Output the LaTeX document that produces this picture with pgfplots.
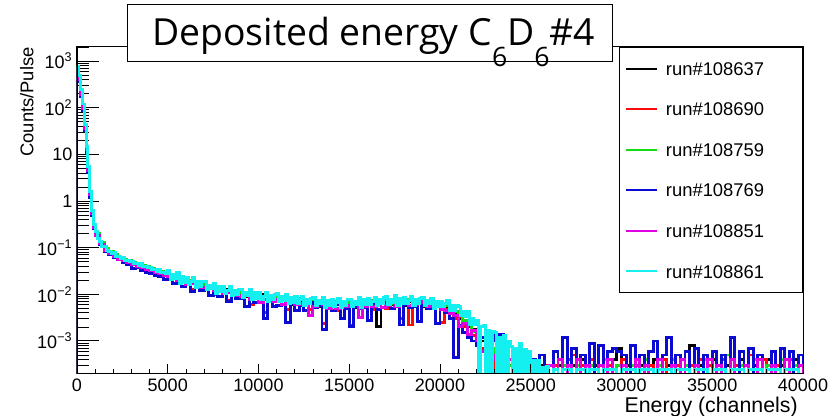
\documentclass[border=0pt]{standalone}
\usepackage{fontspec}
\setmainfont{Liberation Sans}
\newfontfamily\titlefont{Open Sans}
\usepackage{pgfplots}
\usepackage{pgfplotstable}
\pgfplotsset{compat=1.18}
\definecolor{rred}{RGB}{250,10,10}
\definecolor{rgreen}{RGB}{20,220,20}
\definecolor{rblue}{RGB}{10,10,210}
\definecolor{rmag}{RGB}{225,0,225}
\definecolor{rcyan}{RGB}{20,240,240}
% values in units of 1e-4 counts/pulse; 0.1 stands for an empty bin
\pgfplotstableread{
x a b c d e
0 0.1 0.1 0.1 0.1 0.1
0 7.2e6 6.8e6 7.5e6 5.5e6 7e6
100 4.4e6 4.2e6 4.6e6 3.6e6 4.0e6
200 2.1e6 2.0e6 2.3e6 1.7e6 1.9e6
300 1.05e6 1.0e6 1.1e6 0.85e6 0.95e6
400 3.9e5 3.7e5 4.1e5 3.2e5 3.6e5
500 1.35e5 1.3e5 1.45e5 1.1e5 1.25e5
600 4.8e4 4.6e4 5.1e4 4.0e4 4.4e4
700 1.45e4 1.4e4 1.55e4 1.2e4 1.35e4
800 5.8e3 5.6e3 6.1e3 5.0e3 5.4e3
900 2.9e3 2.8e3 3.0e3 2.6e3 2.7e3
1000 2000 1900 2050 1800 1850
1250 1280 1250 1320 1150 1200
1500 960 900 970 840 880
1750 790 770 810 700 740
2000 690 660 720 600 650
2250 630 580 610 560 570
2500 540 530 570 470 520
2750 500 480 520 440 470
3000 470 430 480 360 440
3250 420 420 450 370 400
3500 400 370 420 330 380
3750 370 360 390 290 340
4000 340 320 360 280 320
4250 320 290 330 250 300
4500 290 275 310 240 275
4750 275 250 285 210 255
5000 260 244 268 221 237
5250 226 247 233 170 240
5500 232 185 239 212 198
5750 191 210 197 150 204
6000 189 189 195 177 166
6250 193 130 187 115 171
6500 150 180 162 150 170
6750 160 146 168 120 142
7000 150 141 155 128 137
7250 133 146 138 95 142
7500 139 100 143 127 119
7750 116 128 120 90 124
8000 118 118 122 111 104
8250 124 75 121 70 110
8500 99 119 106 99 112
8750 108 98 113 80 96
9000 104 94 109 83 88
9250 90 105 95 55 100
9500 102 60 107 92 78
9750 80 94 85 66 89
10000 86 86 91 82 68
10250 97 40 92 30 79
10500 69 95 79 73 86
10750 84 71 91 55 69
11000 70 82 74 57 78
11250 76 76 80 72 60
11500 86 47 82 25 70
11750 61 84 70 65 76
12000 74 63 80 45 61
12250 72 65 76 58 61
12500 63 74 67 46 70
12750 72 48 76 66 35
13000 68 58 73 51 56
13250 54 74 62 57 67
13500 73 24 69 18 59
13750 62 62 65 59 49
14000 54 64 58 45 61
14250 66 44 69 60 50
14500 57 66 60 30 63
14750 63 57 66 50 54
15000 69 22 66 20 57
15250 51 70 59 54 64
15500 65 55 70 49 32
15750 66 59 69 53 56
16000 60 70 64 28 67
16250 71 48 75 65 54
16500 20 69 62 48 66
16750 67 67 70 63 53
17000 75 50 78 67 57
17250 61 72 65 50 68
17500 68 68 72 65 54
17750 79 30 76 22 65
18000 58 79 66 61 72
18250 71 22 77 53 58
18500 70 63 74 56 60
18750 62 72 66 26 69
19000 54 75 63 58 68
19250 66 56 71 50 54
19500 64 58 67 51 54
19750 56 65 59 24 62
20000 62 25 65 56 47
20250 55 48 58 40 45
20500 42 50 47 30 38
20750 40 30 42 4.5 35
21000 30 34 35 22 20
21250 27 20 28 15 24
21500 20 22 23 12 14
21750 18 13 16 10 17
22000 12 14 15 8 10
22250 10 7 0.1 12 6
22500 7 9 0.1 5 8
22750 6 5 7 15 4
23000 5 0.1 5 10 5
23250 0.1 5 4 14 0.1
23500 4 3 0.1 5 3
23750 3 0.1 3 0.1 4
24000 0.1 3 0.1 4 0.1
24250 3 0.1 3 0.1 3
24500 0.1 3 0.1 5 0.1
24750 3 0.1 0.1 0.1 3
25000 0.1 3 3 4 0.1
25250 0.1 0.1 0.1 0.1 3
25500 3 0.1 0.1 5 0.1
25750 0.1 3 0.1 0.1 0.1
26000 0.1 0.1 3 0.1 3
26250 0.1 3 0.1 6 0.1
26500 3 0.1 0.1 0.1 4
26750 0.1 0.1 3 12 0.1
27000 0.1 4 0.1 0.1 3
27250 3 5 0.1 7 0.1
27500 0.1 0.1 3 0.1 4
27750 4 3 0.1 5 0.1
28000 0.1 0.1 0.1 0.1 3
28250 0.1 4 3 9 0.1
28500 3 0.1 0.1 0.1 0.1
28750 0.1 3 0.1 8 3
29000 0.1 0.1 4 0.1 0.1
29250 0.1 3 0.1 6 4
29500 4 0.1 0.1 7 0.1
29750 7 0.1 3 6 0.1
30000 0.1 4 0.1 5 3
30250 3 0.1 0.1 0.1 0.1
30500 0.1 0.1 3 8 0.1
30750 0.1 3 0.1 0.1 4
31000 3 0.1 0.1 5 0.1
31250 0.1 0.1 4 0.1 3
31500 0.1 3 0.1 6 0.1
31750 4 0.1 0.1 10 0.1
32000 0.1 0.1 3 0.1 4
32250 0.1 4 0.1 5 0.1
32500 3 0.1 0.1 12 0.1
32750 0.1 0.1 4 0.1 3
33000 0.1 3 0.1 5 0.1
33250 4 0.1 0.1 0.1 4
33500 0.1 0.1 3 6 0.1
33750 8 3 0.1 0.1 0.1
34000 0.1 0.1 0.1 7 3
34250 3 4 0.1 0.1 0.1
34500 0.1 0.1 4 5 0.1
34750 0.1 3 0.1 0.1 4
35000 4 0.1 0.1 6 0.1
35250 0.1 0.1 3 0.1 3
35500 0.1 4 0.1 5 0.1
35750 3 0.1 5 0.1 0.1
36000 0.1 0.1 0.1 12 4
36250 0.1 3 0.1 0.1 0.1
36500 4 0.1 3 6 0.1
36750 0.1 0.1 0.1 0.1 3
37000 0.1 5 0.1 7 0.1
37250 3 0.1 4 0.1 0.1
37500 0.1 0.1 0.1 5 4
37750 0.1 4 0.1 0.1 0.1
38000 4 0.1 3 0.1 0.1
38250 0.1 0.1 0.1 6 3
38500 0.1 3 0.1 0.1 0.1
38750 3 0.1 4 7 0.1
39000 0.1 0.1 0.1 0.1 4
39250 0.1 4 0.1 6 0.1
39500 4 0.1 3 0.1 0.1
39750 0.1 5 0.1 5 3
40000 0.1 0.1 0.1 0.1 0.1
}\data
% run 108861 (cyan), finer binning
\pgfplotstableread{
x f
0 0.1
0 7.6e6
100 4.8e6
200 2.4e6
300 1.2e6
400 4.3e5
500 1.5e5
600 5.4e4
700 1.6e4
800 6.4e3
900 3.2e3
1000 2200
1125 1600
1250 1380
1375 1070
1500 1060
1625 860
1750 840
1875 765
2000 770
2125 660
2250 657
2375 572
2500 627
2625 530
2750 535
2875 500
3000 517
3125 455
3250 466
3375 412
3500 459
3625 391
3750 399
3875 372
4000 385
4125 337
4250 345
4375 303
4500 336
4625 287
4750 294
4875 275
5000 325
5125 212
5250 264
5375 220
5500 292
5625 174
5750 241
5875 182
6000 234
6125 165
6250 191
6375 225
6500 139
6625 185
6750 147
6875 189
7000 187
7125 124
7250 156
7375 131
7500 175
7625 105
7750 147
7875 112
8000 146
8125 105
8250 123
8375 146
8500 92
8625 123
8750 99
8875 129
9000 130
9125 87
9250 110
9375 93
9500 126
9625 76
9750 108
9875 83
10000 109
10125 78
10250 92
10375 111
10500 71
10625 95
10750 77
10875 101
11000 103
11125 69
11250 88
11375 75
11500 101
11625 62
11750 87
11875 68
12000 89
12125 64
12250 76
12375 91
12500 57
12625 78
12750 63
12875 83
13000 85
13125 57
13250 74
13375 63
13500 86
13625 52
13750 75
13875 58
14000 77
14125 55
14250 66
14375 81
14500 52
14625 71
14750 58
14875 77
15000 79
15125 54
15250 70
15375 61
15500 85
15625 52
15750 76
15875 59
16000 80
16125 59
16250 71
16375 87
16500 57
16625 77
16750 64
16875 85
17000 89
17125 60
17250 79
17375 68
17500 94
17625 58
17750 83
17875 65
18000 86
18125 62
18250 75
18375 90
18500 57
18625 77
18750 63
18875 83
19000 85
19125 57
19250 73
19375 62
19500 83
19625 50
19750 71
19875 54
20000 71
20125 55
20250 63
20375 74
20500 45
20625 58
20750 46
20875 57
21000 55
21125 35
21250 42
21375 33
21500 42
21625 23
21750 31
21875 22
22000 28
22125 0.1
22250 20
22375 22
22500 0.1
22625 17
22750 0.1
22875 16
23000 15
23125 0.1
23250 12
23375 0.1
23500 13
23625 0.1
23750 10
23875 7.6
24000 0.1
24125 6.8
24250 0.1
24375 9
24500 0.1
24625 6.7
24750 0.1
24875 6
25000 0.1
25125 3.8
25250 0.1
25375 3.8
25500 0.1
25625 2.7
25750 0.1
25875 2.8
26000 0.1
26250 2.4
26500 0.1
26750 2.4
27000 2.4
27250 0.1
27500 2.4
27750 2.4
28000 0.1
28250 2.4
28500 2.4
28750 0.1
29000 2.4
29250 2.4
29500 2.4
29750 0.1
30000 2.4
30250 2.4
30500 2.4
30750 0.1
31000 2.4
31250 2.4
31500 2.4
31750 0.1
32000 2.4
32250 2.4
32500 2.4
32750 0.1
33000 2.4
33250 2.4
33500 2.4
33750 0.1
34000 2.4
34250 2.4
34500 2.4
34750 0.1
35000 2.4
35250 2.4
35500 2.4
35750 0.1
36000 2.4
36250 2.4
36500 2.4
36750 0.1
37000 2.4
37250 2.4
37500 2.4
37750 0.1
38000 2.4
38250 2.4
38500 2.4
38750 0.1
39000 2.4
39250 2.4
39500 2.4
39750 0.1
40000 0.1
}\cyandata
\begin{document}
\begin{tikzpicture}
\begin{axis}[
  at={(57.75pt,31.5pt)}, anchor=south west,
  scale only axis, width=544.5pt, height=245.25pt,
  ymode=log, xmin=0, xmax=40000, ymin=1.96e-4, ymax=2000,
  axis line style={line width=0.75pt},
  tick pos=left, tick align=inside,
  major tick style={line width=0.75pt, black},
  minor tick style={line width=0.6pt, black},
  ticklabel style={font=\fontsize{13.5}{14}\selectfont},
  /pgf/number format/1000 sep={},
  /pgf/number format/assume math mode=true,
  xtick=\empty,
  major tick length=16.5pt, minor tick length=9pt,
  ytick={1e-3,1e-2,1e-1,1,10,100,1000},
  yticklabels={10\textsuperscript{−3},10\textsuperscript{−2},10\textsuperscript{−1},1,10,10\textsuperscript{2},10\textsuperscript{3}},
  minor ytick={2e-4,3e-4,4e-4,5e-4,6e-4,7e-4,8e-4,9e-4,2e-3,3e-3,4e-3,5e-3,6e-3,7e-3,8e-3,9e-3,0.02,0.03,0.04,0.05,0.06,0.07,0.08,0.09,0.2,0.3,0.4,0.5,0.6,0.7,0.8,0.9,2,3,4,5,6,7,8,9,20,30,40,50,60,70,80,90,200,300,400,500,600,700,800,900,2000},
  ylabel={Counts/Pulse},
  every axis y label/.style={at={(axis description cs:-0.069,1)}, anchor=east, rotate=90, inner sep=0pt, font=\fontsize{13.8}{14}\selectfont},
  legend style={at={(1,1)}, anchor=north east, draw=black, line width=0.6pt, fill=white,
    font=\fontsize{13.8}{14}\selectfont, inner xsep=4.5pt, inner ysep=11pt,
    row sep=20.4pt, column sep=6pt,
    nodes={inner sep=0pt, text height=10pt, text depth=0pt}},
  legend cell align=left,
  legend image code/.code={\draw[#1, line width=1.5pt] (0pt,0pt) -- (23pt,0pt);},
  every axis plot/.append style={const plot, line width=2.2pt, mark=none},
]
\addplot[black] table[x=x, y expr=\thisrow{a}*1e-4] {\data};
\addlegendentry{\makebox[98pt][l]{run\#108637}}
\addplot[rred] table[x=x, y expr=\thisrow{b}*1e-4] {\data};
\addlegendentry{\makebox[98pt][l]{run\#108690}}
\addplot[rgreen] table[x=x, y expr=\thisrow{c}*1e-4] {\data};
\addlegendentry{\makebox[98pt][l]{run\#108759}}
\addplot[rblue] table[x=x, y expr=\thisrow{d}*1e-4] {\data};
\addlegendentry{\makebox[98pt][l]{run\#108769}}
\addplot[rmag] table[x=x, y expr=\thisrow{e}*1e-4] {\data};
\addlegendentry{\makebox[98pt][l]{run\#108851}}
\addplot[rcyan] table[x=x, y expr=\thisrow{f}*1e-4] {\cyandata};
\addlegendentry{\makebox[98pt][l]{run\#108861}}
\end{axis}
\begin{axis}[
  at={(57.75pt,31.5pt)}, anchor=south west,
  scale only axis, width=544.5pt, height=245.25pt,
  ymode=log, xmin=0, xmax=40000, ymin=1.96e-4, ymax=2000,
  axis line style={line width=0.75pt},
  tick pos=left, tick align=inside,
  major tick style={line width=0.75pt, black},
  minor tick style={line width=0.6pt, black},
  ticklabel style={font=\fontsize{13.5}{14}\selectfont},
  /pgf/number format/1000 sep={},
  /pgf/number format/assume math mode=true,
  ytick=\empty,
  major tick length=7.5pt, minor tick length=3.75pt,
  xtick={0,5000,...,40000}, minor x tick num=4,
  scaled x ticks=false,
  xlabel={Energy (channels)},
  every axis x label/.style={at={(axis description cs:1,0)}, anchor=north east, yshift=-17pt, xshift=-3.75pt, inner sep=0pt, font=\fontsize{16}{17}\selectfont},
]
\addplot[draw=none, const plot, forget plot] table[x=x, y expr=\thisrow{a}*1e-4] {\data};
\end{axis}
\node[draw=black, line width=1.1pt, fill=white, inner sep=0pt, minimum width=363.75pt, minimum height=42.75pt, anchor=north west]
  at (95.25pt,309pt) {};
\node[anchor=base west, inner sep=0pt] at (114pt,278pt)
  {\titlefont\fontsize{28}{30}\selectfont Deposited energy C\raisebox{-16pt}{\fontsize{20}{20}\selectfont 6}D\raisebox{-16pt}{\fontsize{20}{20}\selectfont 6}\#4};
\pgfresetboundingbox
\path[use as bounding box] (0,0) rectangle (629.25pt,312pt);
\end{tikzpicture}
\end{document}
